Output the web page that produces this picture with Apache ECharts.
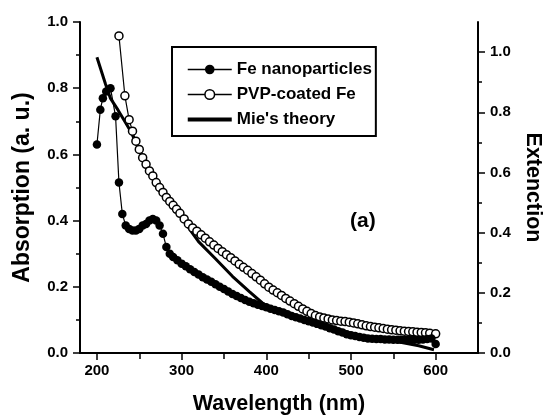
<!DOCTYPE html>
<html><head><meta charset="utf-8">
<script src="https://cdn.jsdelivr.net/npm/echarts@6/dist/echarts.min.js"></script>
<style>html,body{margin:0;padding:0;background:#fff}#c{width:544px;height:420px}</style>
</head><body><div id="c"></div>
<script>
// ---- data ----
const feWavelength = [200,204,207,211,216,222,226,230,234,238,242,246,250,254,258,262,266,270,274,278,282,286,290,295,300,305,310,315,320,325,330,335,340,345,350,355,360,365,370,375,380,385,390,395,400,405,410,415,420,425,430,435,440,445,450,455,460,465,470,475,480,485,490,495,500,505,510,515,520,525,530,535,540,545,550,555,560,565,570,575,580,585,590,595,600];
const feAbsorption = [0.63,0.735,0.77,0.79,0.80,0.715,0.515,0.42,0.385,0.375,0.37,0.37,0.375,0.385,0.39,0.40,0.405,0.40,0.385,0.36,0.32,0.30,0.29,0.28,0.27,0.262,0.253,0.245,0.237,0.229,0.222,0.215,0.208,0.200,0.193,0.186,0.178,0.172,0.166,0.160,0.155,0.150,0.146,0.142,0.138,0.134,0.130,0.126,0.122,0.117,0.112,0.108,0.104,0.100,0.096,0.092,0.088,0.084,0.080,0.075,0.071,0.066,0.062,0.057,0.054,0.051,0.048,0.046,0.044,0.043,0.042,0.042,0.041,0.041,0.040,0.040,0.040,0.040,0.040,0.040,0.040,0.041,0.042,0.044,0.027];

const pvpWavelength = [226,233,238,242,246,250,254,258,262,266,270,274,278,282,286,290,294,298,303,308,313,318,323,328,333,338,343,348,353,358,363,368,373,378,383,388,393,398,403,408,413,418,423,428,433,438,443,448,453,458,463,468,473,478,483,488,493,498,503,508,513,518,523,528,533,538,543,548,553,558,563,568,573,578,583,588,593,600];
const pvpAbsorption = [0.958,0.777,0.705,0.67,0.64,0.615,0.59,0.57,0.55,0.535,0.515,0.50,0.485,0.47,0.458,0.446,0.434,0.422,0.405,0.39,0.378,0.368,0.357,0.347,0.336,0.326,0.316,0.306,0.297,0.288,0.278,0.268,0.259,0.25,0.24,0.23,0.22,0.209,0.199,0.19,0.182,0.174,0.165,0.157,0.149,0.141,0.133,0.126,0.119,0.113,0.109,0.106,0.103,0.10,0.098,0.096,0.095,0.093,0.091,0.088,0.085,0.082,0.08,0.078,0.076,0.074,0.072,0.07,0.069,0.067,0.066,0.065,0.064,0.063,0.062,0.061,0.06,0.058];

const mieWavelength = [200,205,210,216,225,233,240,250,260,270,280,290,300,310,320,340,360,380,395,402,420,450,480,500,530,560,580,598];
const mieExtinction = [0.983,0.939,0.895,0.846,0.807,0.769,0.736,0.676,0.615,0.566,0.522,0.489,0.456,0.409,0.370,0.313,0.255,0.204,0.167,0.154,0.137,0.110,0.082,0.066,0.049,0.035,0.024,0.011];

const xMajorTicks = [200,300,400,500,600];
const xMinorTicks = [250,350,450,550];
const xTopTicks = [200,250,300,350,400,450,500,550,600];
const rightMajorTicks = [0,0.2,0.4,0.6,0.8,1.0];
const rightMinorTicks = [0.1,0.3,0.5,0.7,0.9];

const seriesNames = ['Fe nanoparticles','PVP-coated Fe',"Mie's theory"];

// ---- chart ----
const FONT = '"Liberation Sans", Arial, sans-serif';
const zip = (xs, ys) => xs.map((x, i) => [x, ys[i]]);
const fmt1 = v => Number(v).toFixed(1);
const chart = echarts.init(document.getElementById('c'), null, {renderer: 'canvas'});
const axisLineStyle = {color: '#000', width: 2};
const tickStyle = {color: '#000', width: 1.5};
const labelStyle = {fontSize: 15, fontWeight: 'bold', color: '#000', fontFamily: FONT};
const nameStyle = size => ({fontSize: size, fontWeight: 'bold', color: '#000', fontFamily: FONT});

chart.setOption({
  animation: false,
  backgroundColor: '#fff',
  grid: {left: 80, right: 66, top: 22, bottom: 67, outerBoundsMode: 'none', containLabel: false},
  legend: {
    orient: 'vertical', left: 172, top: 47,
    padding: [14, 4, 8, 15],
    itemGap: 8, itemWidth: 44, itemHeight: 12,
    borderColor: '#000', borderWidth: 2,
    selectedMode: false,
    textStyle: {fontSize: 17, fontWeight: 'bold', color: '#000', fontFamily: FONT},
    data: [
      {name: seriesNames[0], itemStyle: {color: '#000', borderWidth: 0}, lineStyle: {color: '#000', width: 1.5}},
      {name: seriesNames[1], itemStyle: {color: '#fff', borderColor: '#000', borderWidth: 1.5}, lineStyle: {color: '#000', width: 1.5}},
      {name: seriesNames[2], icon: 'path://M0,0H44V4H0Z', itemStyle: {color: '#000', borderWidth: 0}}
    ]
  },
  xAxis: [
    {type: 'value', min: 180, max: 650, position: 'bottom',
     axisLine: {lineStyle: axisLineStyle},
     axisTick: {customValues: xMajorTicks, length: 7, lineStyle: tickStyle},
     axisLabel: Object.assign({customValues: xMajorTicks, margin: 10}, labelStyle),
     splitLine: {show: false},
     name: 'Wavelength (nm)', nameLocation: 'middle', nameGap: 40, nameTextStyle: nameStyle(21.5)},
    {type: 'value', min: 180, max: 650, position: 'bottom',
     axisLine: {show: false},
     axisTick: {customValues: xMinorTicks, length: 4, lineStyle: tickStyle},
     axisLabel: {show: false}, splitLine: {show: false}},
    {type: 'value', min: 180, max: 650, position: 'top',
     axisLine: {lineStyle: axisLineStyle},
     axisTick: {customValues: xTopTicks, inside: true, length: 6, lineStyle: tickStyle},
     axisLabel: {show: false}, splitLine: {show: false}}
  ],
  yAxis: [
    {type: 'value', min: 0, max: 1, interval: 0.2, position: 'left',
     axisLine: {show: true, lineStyle: axisLineStyle},
     axisTick: {show: true, length: 7, lineStyle: tickStyle},
     minorTick: {show: true, splitNumber: 2, length: 4, lineStyle: tickStyle},
     axisLabel: Object.assign({formatter: fmt1, margin: 12}, labelStyle),
     splitLine: {show: false}, minorSplitLine: {show: false},
     name: 'Absorption (a. u.)', nameLocation: 'middle', nameGap: 46, nameTextStyle: nameStyle(23)},
    {type: 'value', min: 0, max: 1.1, position: 'right',
     axisLine: {show: true, lineStyle: axisLineStyle},
     axisTick: {show: true, customValues: rightMajorTicks, length: 7, lineStyle: tickStyle},
     axisLabel: Object.assign({customValues: rightMajorTicks, formatter: fmt1, margin: 12}, labelStyle),
     splitLine: {show: false},
     name: 'Extenction', nameLocation: 'middle', nameGap: 41, nameRotate: -90, nameTextStyle: nameStyle(21.5)},
    {type: 'value', min: 0, max: 1.1, position: 'right',
     axisLine: {show: false},
     axisTick: {show: true, customValues: rightMinorTicks, length: 4, lineStyle: tickStyle},
     axisLabel: {show: false}, splitLine: {show: false}}
  ],
  graphic: [
    {type: 'text', left: 350, top: 211, z: 10,
     style: {text: '(a)', font: 'bold 21px ' + FONT, fill: '#000'}}
  ],
  series: [
    {name: seriesNames[2], type: 'line', xAxisIndex: 0, yAxisIndex: 1, z: 1,
     symbol: 'none', data: zip(mieWavelength, mieExtinction),
     lineStyle: {color: '#000', width: 3}, itemStyle: {color: '#000'}},
    {name: seriesNames[1], type: 'line', xAxisIndex: 0, yAxisIndex: 0, z: 2,
     symbol: 'circle', symbolSize: 8, data: zip(pvpWavelength, pvpAbsorption),
     lineStyle: {color: '#000', width: 1.2},
     itemStyle: {color: '#fff', borderColor: '#000', borderWidth: 1.5}},
    {name: seriesNames[0], type: 'line', xAxisIndex: 0, yAxisIndex: 0, z: 3,
     symbol: 'circle', symbolSize: 8.5, data: zip(feWavelength, feAbsorption),
     lineStyle: {color: '#000', width: 1.2},
     itemStyle: {color: '#000', borderWidth: 0}}
  ]
});
</script></body></html>
